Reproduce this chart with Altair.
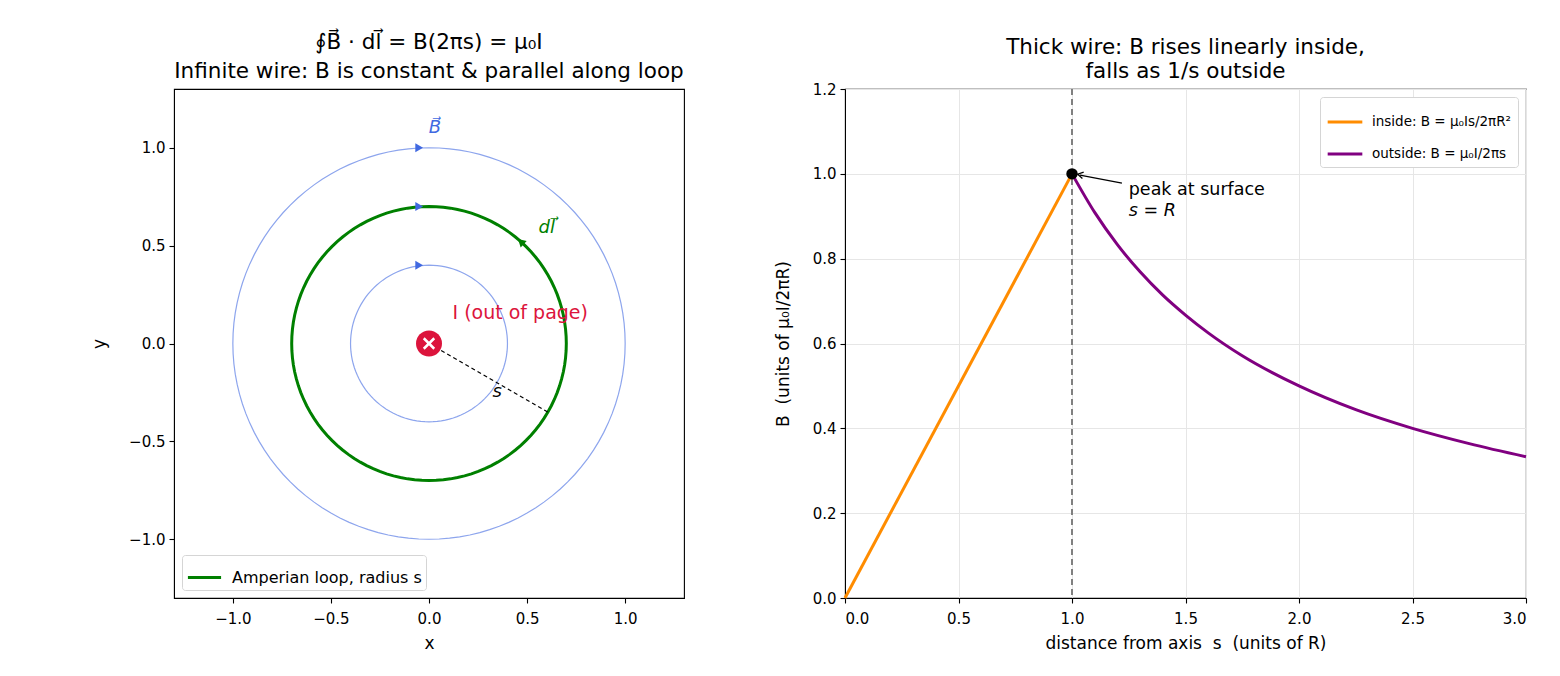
import altair as alt
import pandas as pd

FONT = "DejaVu Sans"
NB = "\u00a0"

# ---------------- left panel data ----------------
field_radii = [0.4, 1.0]          # blue field-line circles
loop_radii = [0.7]                # Amperian loop
circle_angles = list(range(0, 361, 3))
arrow_r = [0.4, 0.7, 1.0]         # blue direction markers at top of circles
arrow_x = [-0.05, -0.05, -0.05]
loop_arrow_x = [0.468]
loop_arrow_y = [0.520]
radius_line_x = [0.0, 0.606]
radius_line_y = [0.0, -0.35]
loop_label = "Amperian loop, radius s"

# ---------------- right panel data ----------------
inside_s = [0.0, 1.0]
inside_B = [0.0, 1.0]
outside_s = [1.0, 1.1, 1.2, 1.3, 1.4, 1.5, 1.6, 1.75, 2.0, 2.25, 2.5, 2.75, 3.0]
outside_B = [1.0, 0.909, 0.833, 0.769, 0.714, 0.667, 0.625, 0.571, 0.5, 0.444, 0.4, 0.364, 0.333]
inside_label = "inside: B = μ₀Is/2πR²"
outside_label = "outside: B = μ₀I/2πs"
peak_s = [1.0]
peak_B = [1.0]

TICK_FS = 15
LAB_FS = 17
TITLE_FS = 21.5

# ---------------- left panel ----------------
xs = alt.Scale(domain=[-1.3, 1.3], nice=False, zero=False)
ys = alt.Scale(domain=[-1.3, 1.3], nice=False, zero=False)
tick_vals = [-1.0, -0.5, 0.0, 0.5, 1.0]
xax = alt.Axis(title="x", values=tick_vals, format=".1f")
yax = alt.Axis(title="y", values=tick_vals, format=".1f")

field_df = pd.DataFrame([(r, t) for r in field_radii for t in circle_angles], columns=["r", "t"])
loop_df = pd.DataFrame([(r, t, loop_label) for r in loop_radii for t in circle_angles], columns=["r", "t", "lab"])

field = alt.Chart(field_df).transform_calculate(
    cx="datum.r*cos(datum.t*PI/180)", cy="datum.r*sin(datum.t*PI/180)"
).mark_line(color="#8da5ed", strokeWidth=1.2).encode(
    x=alt.X("cx:Q", scale=xs, axis=xax),
    y=alt.Y("cy:Q", scale=ys, axis=yax),
    detail="r:N",
    order="t:Q",
)

loop = alt.Chart(loop_df).transform_calculate(
    cx="datum.r*cos(datum.t*PI/180)", cy="datum.r*sin(datum.t*PI/180)"
).mark_line(strokeWidth=3).encode(
    x=alt.X("cx:Q", scale=xs, axis=xax),
    y=alt.Y("cy:Q", scale=ys, axis=yax),
    order="t:Q",
    color=alt.Color("lab:N", scale=alt.Scale(domain=[loop_label], range=["green"]),
                    legend=alt.Legend(title=None, orient="bottom-left", symbolType="stroke",
                                      symbolStrokeWidth=3, symbolSize=1100, labelFontSize=16,
                                      labelOffset=9, labelLimit=500, labelFont=FONT, padding=4,
                                      fillColor="white", strokeColor="#d5d5d5", cornerRadius=3,
                                      offset=8)),
)

arrows = alt.Chart(pd.DataFrame({"x": arrow_x, "y": arrow_r})).mark_point(
    shape="triangle-right", filled=True, color="royalblue", size=80, opacity=1
).encode(x=alt.X("x:Q", scale=xs), y=alt.Y("y:Q", scale=ys))

loop_arrow = alt.Chart(pd.DataFrame({"x": loop_arrow_x, "y": loop_arrow_y})).mark_point(
    shape="triangle-up", filled=True, color="green", size=80, angle=312, opacity=1
).encode(x=alt.X("x:Q", scale=xs), y=alt.Y("y:Q", scale=ys))

radius_line = alt.Chart(pd.DataFrame({"x": radius_line_x, "y": radius_line_y})).mark_line(
    color="black", strokeWidth=1.2, strokeDash=[4, 3]
).encode(x=alt.X("x:Q", scale=xs), y=alt.Y("y:Q", scale=ys))

wire = alt.Chart(pd.DataFrame({"x": [0.0], "y": [0.0]})).mark_point(
    shape="circle", filled=True, color="crimson", size=676, opacity=1
).encode(x=alt.X("x:Q", scale=xs), y=alt.Y("y:Q", scale=ys))

wire_x = alt.Chart(pd.DataFrame({"x": [0.0], "y": [0.0]})).mark_point(
    shape="M-1,-1L1,1M-1,1L1,-1", filled=False, stroke="white", strokeWidth=2.5, size=110, opacity=1
).encode(x=alt.X("x:Q", scale=xs), y=alt.Y("y:Q", scale=ys))

left_texts = pd.DataFrame({
    "x": [0.03, 0.60, 0.12, 0.347],
    "y": [1.10, 0.59, 0.156, -0.248],
    "txt": ["B⃗", "dl⃗", "I (out of page)", "s"],
    "col": ["royalblue", "green", "crimson", "black"],
    "sty": ["italic", "italic", "normal", "italic"],
    "fs": [18, 18, 19, 18],
})
labels = []
for _, row in left_texts.iterrows():
    labels.append(
        alt.Chart(pd.DataFrame([row])).mark_text(
            font=FONT, fontSize=float(row["fs"]), color=row["col"], fontStyle=row["sty"],
            align="left" if row["txt"].startswith("I") else "center", baseline="middle"
        ).encode(x=alt.X("x:Q", scale=xs), y=alt.Y("y:Q", scale=ys), text="txt:N")
    )

left = alt.layer(field, loop, radius_line, arrows, loop_arrow, wire, wire_x, *labels).properties(
    width=510, height=509,
    title=alt.TitleParams(
        text=["∮B⃗ · dl⃗ = B(2πs) = μ₀I", "Infinite wire: B is constant & parallel along loop"],
        font=FONT, fontSize=TITLE_FS, fontWeight="normal", lineHeight=29, offset=7, color="black"),
)

# ---------------- right panel ----------------
sx = alt.Scale(domain=[0, 3], nice=False, zero=False)
sy = alt.Scale(domain=[0, 1.2], nice=False, zero=False)
rxax = alt.Axis(title=f"distance from axis{NB}{NB}s{NB}{NB}(units of R)",
                values=[0, 0.5, 1, 1.5, 2, 2.5, 3], format=".1f", grid=True)
ryax = alt.Axis(title=f"B{NB}{NB}(units of μ₀I/2πR)",
                values=[0, 0.2, 0.4, 0.6, 0.8, 1.0, 1.2], format=".1f", grid=True)

curve_df = pd.concat([
    pd.DataFrame({"s": inside_s, "B": inside_B, "series": inside_label}),
    pd.DataFrame({"s": outside_s, "B": outside_B, "series": outside_label}),
])

vline = alt.Chart(pd.DataFrame({"s": peak_s})).mark_rule(
    color="gray", strokeWidth=2, strokeDash=[6, 4]
).encode(x=alt.X("s:Q", scale=sx, axis=rxax))

curves = alt.Chart(curve_df).mark_line(strokeWidth=3, interpolate="monotone").encode(
    x=alt.X("s:Q", scale=sx, axis=rxax),
    y=alt.Y("B:Q", scale=sy, axis=ryax),
    color=alt.Color("series:N", scale=alt.Scale(domain=[inside_label, outside_label],
                                                range=["darkorange", "purple"]),
                    legend=alt.Legend(title=None, orient="top-right", symbolType="stroke",
                                      symbolStrokeWidth=3, symbolSize=1200, labelFontSize=13.5,
                                      labelOffset=8, labelLimit=500, labelFont=FONT, padding=6,
                                      rowPadding=6, fillColor="white", strokeColor="#d5d5d5",
                                      cornerRadius=3, offset=8)),
)

peak = alt.Chart(pd.DataFrame({"s": peak_s, "B": peak_B})).mark_point(
    shape="circle", filled=True, color="black", size=130, opacity=1
).encode(x=alt.X("s:Q", scale=sx), y=alt.Y("B:Q", scale=sy))

ann_line = alt.Chart(pd.DataFrame({"s": [1.22, 1.035], "B": [0.978, 0.997]})).mark_line(
    color="black", strokeWidth=1.3
).encode(x=alt.X("s:Q", scale=sx), y=alt.Y("B:Q", scale=sy))

ann_head = alt.Chart(pd.DataFrame({"s": [1.025], "B": [0.999]})).mark_point(
    shape="M-1,-0.6L0,0L-1,0.6", filled=False, stroke="black", strokeWidth=1.3, size=120,
    angle=190.8, opacity=1
).encode(x=alt.X("s:Q", scale=sx), y=alt.Y("B:Q", scale=sy))

ann_t1 = alt.Chart(pd.DataFrame({"s": [1.25], "B": [0.962], "t": ["peak at surface"]})).mark_text(
    font=FONT, fontSize=17.5, align="left", baseline="middle", color="black"
).encode(x=alt.X("s:Q", scale=sx), y=alt.Y("B:Q", scale=sy), text="t:N")
ann_t2 = alt.Chart(pd.DataFrame({"s": [1.25], "B": [0.913], "t": ["s = R"]})).mark_text(
    font=FONT, fontSize=17.5, align="left", baseline="middle", color="black", fontStyle="italic"
).encode(x=alt.X("s:Q", scale=sx), y=alt.Y("B:Q", scale=sy), text="t:N")

right = alt.layer(vline, curves, peak, ann_line, ann_head, ann_t1, ann_t2).properties(
    width=681, height=509,
    title=alt.TitleParams(
        text=["Thick wire: B rises linearly inside,", "falls as 1/s outside"],
        font=FONT, fontSize=TITLE_FS, fontWeight="normal", lineHeight=24, offset=0, color="black"),
)

chart = alt.hconcat(left, right, spacing=88).resolve_scale(
    color="independent"
).resolve_legend(color="independent").properties(
    padding={"left": 90, "top": 30, "right": 10, "bottom": 10},
    background="white",
).configure_view(
    stroke="black", strokeWidth=1.1
).configure_axis(
    labelFont=FONT, titleFont=FONT, labelFontSize=TICK_FS, titleFontSize=LAB_FS,
    titleFontWeight="normal", labelColor="black", titleColor="black",
    domainColor="black", tickColor="black", tickSize=5, tickWidth=1.1,
    grid=False, gridColor="#e6e6e6", gridWidth=1,
).configure_axisX(titlePadding=9, labelPadding=8).configure_axisY(titlePadding=20, labelPadding=4)

chart.save("out.html", embed_options={"renderer": "svg", "actions": False})
